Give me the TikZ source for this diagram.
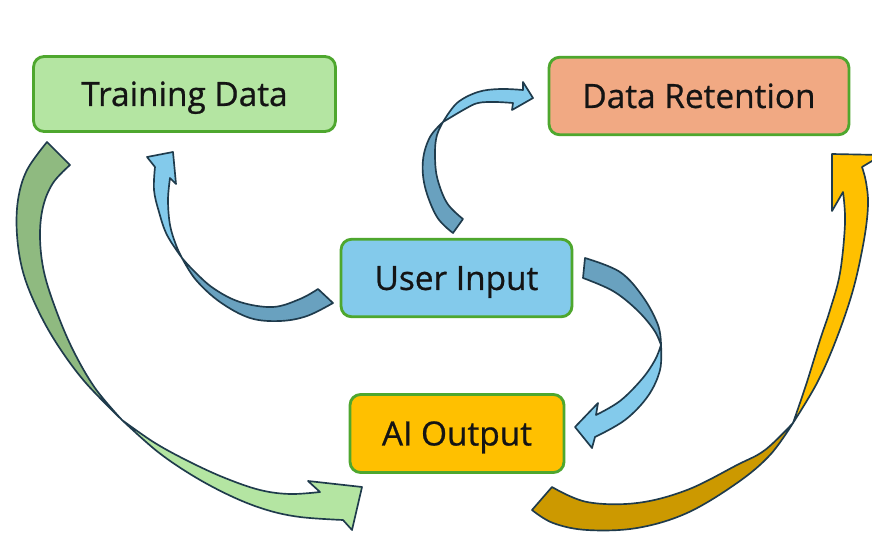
\documentclass[tikz,border=0pt]{standalone}
\usepackage{fontspec}
\setmainfont{Open Sans}
\newfontfamily\boxfont{Open Sans}[RawFeature={embolden=0.7}]
\definecolor{boxgreen}{HTML}{4EA72E}
\definecolor{tdfill}{HTML}{B4E5A2}
\definecolor{drfill}{HTML}{F1A983}
\definecolor{uifill}{HTML}{83CAEB}
\definecolor{aofill}{HTML}{FFC000}
\definecolor{bdark}{HTML}{69A1BF}
\definecolor{blight}{HTML}{83CAEB}
\definecolor{gdark}{HTML}{8FBA80}
\definecolor{glight}{HTML}{B4E5A2}
\definecolor{ydark}{HTML}{CC9900}
\definecolor{ylight}{HTML}{FFC000}
\definecolor{outl}{HTML}{1F3B4C}
\definecolor{textc}{HTML}{141414}
\begin{document}
\begin{tikzpicture}[x=0.02cm,y=-0.02cm,
  box/.style={draw=boxgreen, line width=1.6pt, rounded corners=6pt, inner sep=0pt,
    text height=13.6pt, text depth=0pt,
    font=\boxfont\fontsize{19}{22}\selectfont, text=textc},
  rib/.style={draw=outl, line width=0.95pt, line join=round},
  sm/.style={smooth, tension=0.6}]
\useasboundingbox (0,0) rectangle (872,537);
\fill[white] (0,0) rectangle (872,537);

% boxes
\node[box, fill=tdfill, minimum width=6.04cm, minimum height=1.5cm] (td) at (184.5,94) {Training Data};
\node[box, fill=drfill, minimum width=6.0cm, minimum height=1.55cm] (dr) at (699,96) {Data Retention};
\node[box, fill=uifill, minimum width=4.62cm, minimum height=1.55cm] (ui) at (456.5,278) {User Input};
\node[box, fill=aofill, minimum width=4.28cm, minimum height=1.56cm] (ao) at (457,433.5) {AI Output};

% green arrow: Training Data -> AI Output
\filldraw[rib, fill=gdark] plot[sm] coordinates {(47,142) (27,170) (18,200) (17,235) (23,272) (37,308) (57,344) (85,382) (122,420)}
  -- plot[sm] coordinates {(122,420) (95,388) (73,350) (56,310) (44,272) (40,237) (43,207) (53,183) (70,165)} -- cycle;
\filldraw[rib, fill=glight] plot[sm] coordinates {(122,420) (158,452) (195,477) (233,497) (267,510) (300,517) (343,520)}
  -- (352,530) -- (362,487) -- (308,481) -- (320,492)
  -- plot[sm] coordinates {(320,492) (290,494) (260,490) (225,478) (190,462) (155,443) (122,420)} -- cycle;

% blue arrow: User Input -> Training Data
\filldraw[rib, fill=bdark] plot[sm] coordinates {(333,303) (307,316) (280,321) (250,318) (220,302) (196,280) (182,258)}
  -- plot[sm] coordinates {(182,258) (193,270) (213,288) (240,302) (273,307) (300,299) (318,289)} -- cycle;
\filldraw[rib, fill=blight] plot[sm] coordinates {(182,258) (167,235) (159,212) (154,190) (155,167)}
  -- (147,157) -- (173,152) -- (176,184) -- (170,178)
  -- plot[sm] coordinates {(170,178) (168,200) (170,225) (176,245) (182,258)} -- cycle;

% blue arrow: User Input -> Data Retention
\filldraw[rib, fill=bdark] plot[sm] coordinates {(453,233) (437,217) (425,187) (423,160) (430,137) (443,122)}
  -- plot[sm] coordinates {(443,122) (437,135) (435,152) (437,177) (447,203) (463,219)} -- cycle;
\filldraw[rib, fill=blight] plot[sm] coordinates {(443,122) (457,103) (478,92) (500,89) (523,90)}
  -- (523,82) -- (533,98) -- (512,110) -- (513,103)
  -- plot[sm] coordinates {(513,103) (495,102) (478,103) (465,109) (443,122)} -- cycle;

% blue arrow: User Input -> AI Output
\filldraw[rib, fill=bdark] plot[sm] coordinates {(585,258) (620,272) (643,297) (658,325) (661,345)}
  -- plot[sm] coordinates {(661,345) (654,330) (637,310) (613,291) (583,278)} -- cycle;
\filldraw[rib, fill=blight] plot[sm] coordinates {(661,345) (660,370) (648,396) (625,420) (595,437)}
  -- (592,448) -- (575,427) -- (598,403) -- (596,415)
  -- plot[sm] coordinates {(596,415) (620,401) (642,379) (655,360) (661,345)} -- cycle;

% yellow arrow: AI Output -> Data Retention
\filldraw[rib, fill=ydark] plot[sm] coordinates {(532,510) (553,523) (587,530) (637,528) (687,513) (737,483) (770,455) (793,423)}
  -- plot[sm] coordinates {(793,423) (765,450) (737,465) (687,490) (637,503) (587,502) (552,487)} -- cycle;
\filldraw[rib, fill=ylight] plot[sm] coordinates {(793,423) (817,383) (836,340) (853,290) (864,240) (868,205) (866,182) (862,167)}
  -- (882,155) -- (832,154) -- (832,211) -- (843,192)
  -- plot[sm] coordinates {(843,192) (845,223) (840,273) (830,310) (820,340) (806,385) (793,423)} -- cycle;
\end{tikzpicture}
\end{document}
